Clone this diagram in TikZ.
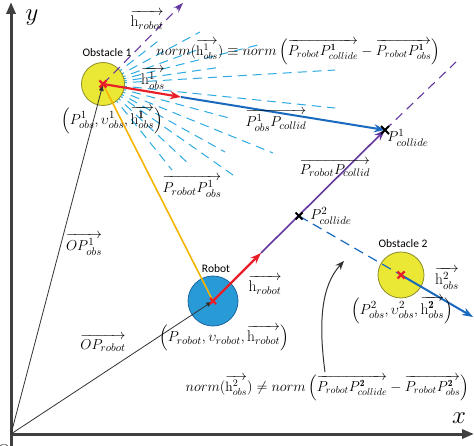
\documentclass[tikz,border=0pt]{standalone}
\usepackage{amsmath}
\usepackage{fontspec}
\newfontfamily\labfont{Carlito}
\usetikzlibrary{arrows.meta,calc}
\definecolor{obsyel}{RGB}{234,232,52}
\definecolor{obsedge}{RGB}{140,140,40}
\definecolor{robblue}{RGB}{40,155,215}
\definecolor{robedge}{RGB}{30,100,160}
\definecolor{redv}{RGB}{232,30,40}
\definecolor{bluev}{RGB}{25,105,190}
\definecolor{purp}{RGB}{100,55,160}
\definecolor{fanblue}{RGB}{45,170,225}
\definecolor{yelv}{RGB}{245,180,0}
\definecolor{axisc}{RGB}{64,64,64}
\begin{document}
\begin{tikzpicture}[x=1pt,y=-1pt,
  axisline/.style={line width=3pt, draw=axisc, -{Triangle[length=12pt,width=9pt]}},
  posvec/.style={draw=black!80, line width=0.8pt, -{Latex[length=7pt,width=5pt]}},
  fanray/.style={draw=fanblue, line width=1pt, dash pattern=on 9pt off 6pt},
  redarrow/.style={draw=redv, line width=2.2pt, -{Stealth[length=11pt,width=8pt]}},
  bluearrow/.style={draw=bluev, line width=2pt, -{Stealth[length=11pt,width=8pt]}},
  purparrow/.style={draw=purp, line width=1.6pt, -{Stealth[length=11pt,width=8pt]}},
  purpdash/.style={draw=purp, line width=1.1pt, dash pattern=on 9pt off 6pt},
  obsbody/.style={circle, draw=obsedge, fill=obsyel, line width=0.8pt, inner sep=0pt},
  robbody/.style={circle, draw=robedge, fill=robblue, line width=0.8pt, inner sep=0pt, minimum size=50pt},
  namelab/.style={font=\labfont\fontsize{11.5}{12}\selectfont, inner sep=0pt},
  mathlab/.style={font=\fontsize{15.5}{17}\selectfont, inner sep=0pt},
  eqlab/.style={font=\fontsize{13.6}{15}\selectfont, inner sep=0pt},
  axlab/.style={font=\fontsize{24}{26}\selectfont, inner sep=0pt},
  xmark/.style={draw=black, line width=2pt},
  rmark/.style={draw=redv, line width=2.4pt}
]
\useasboundingbox (0,0) rectangle (474,446);
% key points
\coordinate (O) at (11,434);
\coordinate (ytop) at (11,2);
\coordinate (xend) at (474,434);
\coordinate (ybot) at (11,446);
\coordinate (o1c) at (103,84);
\coordinate (rbc) at (213,301);
\coordinate (o2c) at (401,275);
\coordinate (c1) at (385,130);
\coordinate (c2) at (299,216);
\coordinate (rt1) at (181,97);
\coordinate (rt2) at (261,253);
\coordinate (pext) at (456,62);
\coordinate (hr1) at (183,3);
\coordinate (b2) at (473,317);
\coordinate (cs) at (325,372);
\coordinate (ce) at (344,261);
% fan rays from obstacle 1
\foreach \e in {(162,38),(200,32),(197,50),(258,45),(222,67),(335,70),(335,108),(229,118),(273,153),(225,152),(233,175),(191,166),(172,170)}
  \draw[fanray] (o1c) -- \e;
% axes
\draw[axisline] (ybot) -- (ytop);
\draw[axisline] ([xshift=-1.5pt]O) -- (xend);
% bodies
\node[obsbody, minimum size=43pt] (obs1) at (o1c) {};
\node[obsbody, minimum size=46pt] (obs2) at (o2c) {};
\node[robbody] (rob) at (rbc) {};
% vectors
\draw[draw=yelv, line width=1.6pt] (rob.center) -- (obs1.center);
\draw[posvec] (O) -- (obs1.center);
\draw[posvec] (O) -- (rob.center);
\draw[purpdash, -{Stealth[length=10pt,width=7pt]}] (obs1.center) -- (hr1);
\draw[bluearrow] (rt1) -- (c1);
\draw[redarrow] (obs1.center) -- (rt1);
\draw[purparrow] (rt2) -- (c1);
\draw[redarrow] (rob.center) -- (rt2);
\draw[purpdash] (c1) -- (pext);
\draw[draw=bluev, line width=1.2pt, dash pattern=on 10pt off 6pt] (c2) -- (obs2.center);
\draw[bluearrow] (obs2.center) -- (b2);
\draw[draw=black!80, line width=1pt, -{Stealth[length=9pt,width=7pt]}] (cs) .. controls (318,320) and (322,285) .. (ce);
% marks
\draw[rmark] ($(o1c)+(-3.5,-3.5)$) -- ($(o1c)+(3.5,3.5)$) ($(o1c)+(-3.5,3.5)$) -- ($(o1c)+(3.5,-3.5)$);
\draw[rmark] ($(rbc)+(-3,-3)$) -- ($(rbc)+(3,3)$) ($(rbc)+(-3,3)$) -- ($(rbc)+(3,-3)$);
\draw[rmark] ($(o2c)+(-3.5,-3.5)$) -- ($(o2c)+(3.5,3.5)$) ($(o2c)+(-3.5,3.5)$) -- ($(o2c)+(3.5,-3.5)$);
\draw[xmark] ($(c1)+(-4,-4)$) -- ($(c1)+(4,4)$) ($(c1)+(-4,4)$) -- ($(c1)+(4,-4)$);
\draw[xmark] ($(c2)+(-3.5,-3.5)$) -- ($(c2)+(3.5,3.5)$) ($(c2)+(-3.5,3.5)$) -- ($(c2)+(3.5,-3.5)$);
% labels
\node[axlab] (ylab) at (32,18) {$y$};
\node[axlab] (xlab) at (459,418) {$x$};
\node[axlab, font=\fontsize{20}{22}\selectfont] (olab) at (4,452) {O};
\node[namelab] (n1) at (107,53) {Obstacle 1};
\node[namelab] (n2) at (403,244) {Obstacle 2};
\node[namelab] (n3) at (216,269) {Robot};
\node[mathlab] (lhr1) at (147,20) {$\overrightarrow{\mathrm{h}_{robot}}$};
\node[eqlab, anchor=east] (eq1) at (440,52) {$norm(\overrightarrow{\mathrm{h}^1_{obs}})\equiv norm\left(\overrightarrow{P_{robot}P^{\mathbf{1}}_{collide}}-\overrightarrow{P_{robot}P^{\mathbf{1}}_{obs}}\right)$};
\node[mathlab] (lh1) at (153,78) {$\overrightarrow{\mathrm{h}^1_{obs}}$};
\node[mathlab] (tup1) at (112,120) {$\left(P^1_{obs},\upsilon^1_{obs},\overrightarrow{\mathrm{h}^{\mathbf{1}}_{obs}}\right)$};
\node[mathlab] (lpc) at (276,120) {$\overrightarrow{P^1_{obs}P_{collid}}$};
\node[mathlab] (lc1) at (408,138) {$P^1_{collide}$};
\node[mathlab] (lrc) at (335,168) {$\overrightarrow{P_{robot}P_{collid}}$};
\node[mathlab] (lrp) at (192,186) {$\overrightarrow{P_{robot}P^1_{obs}}$};
\node[mathlab] (lc2) at (331,216) {$P^2_{collide}$};
\node[mathlab] (lop1) at (84,244) {$\overrightarrow{OP^1_{obs}}$};
\node[mathlab] (lopr) at (103,343) {$\overrightarrow{OP_{robot}}$};
\node[mathlab] (lhr2) at (265,285) {$\overrightarrow{\mathrm{h}_{robot}}$};
\node[mathlab] (tupr) at (224,338) {$\left(P_{robot},\upsilon_{robot},\overrightarrow{\mathrm{h}_{robot}}\right)$};
\node[mathlab] (tup2) at (402,310) {$\left(P^2_{obs},\upsilon^2_{obs},\overrightarrow{\mathrm{h}^{\mathbf{2}}_{obs}}\right)$};
\node[mathlab] (lh2) at (447,278) {$\overrightarrow{\mathrm{h}^2_{obs}}$};
\node[eqlab, anchor=east] (eq2) at (469,388) {$norm(\overrightarrow{\mathrm{h}^2_{obs}})\neq norm\left(\overrightarrow{P_{robot}P^{\mathbf{2}}_{collide}}-\overrightarrow{P_{robot}P^{\mathbf{2}}_{obs}}\right)$};
\end{tikzpicture}
\end{document}
